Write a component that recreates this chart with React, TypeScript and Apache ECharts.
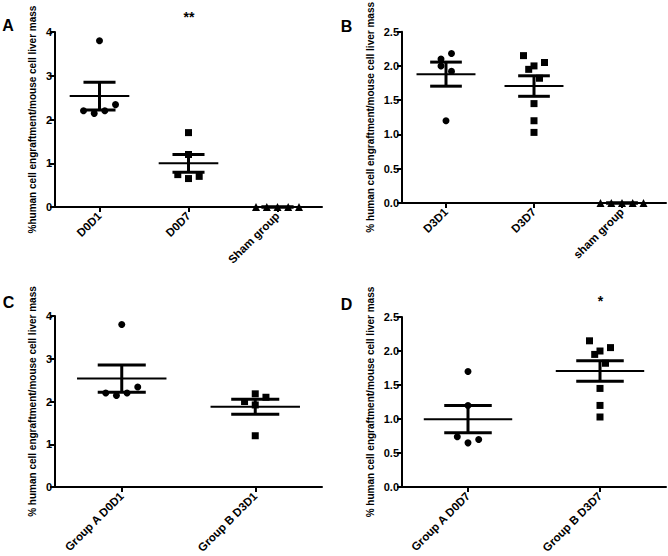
import React, { useEffect, useRef } from "react";
import * as echarts from "echarts";

// ---- categories ----
const A_CATEGORIES = ["D0D1", "D0D7", "Sham group"];
const B_CATEGORIES = ["D3D1", "D3D7", "sham group"];
const C_CATEGORIES = ["Group A D0D1", "Group B D3D1"];
const D_CATEGORIES = ["Group A D0D7", "Group B D3D7"];

// ---- values (% human cell engraftment / mouse cell liver mass) ----
const D0D1_VALUES = [3.8, 2.2, 2.14, 2.2, 2.34];
const D0D7_VALUES = [1.7, 1.2, 0.74, 0.65, 0.7];
const D3D1_VALUES = [2.18, 2.1, 2.0, 1.92, 1.2];
const D3D7_VALUES = [2.15, 1.95, 2.0, 2.05, 1.82, 1.45, 1.2, 1.03];
const SHAM_A_VALUES = [0, 0, 0, 0, 0];
const SHAM_B_VALUES = [0, 0, 0, 0, 0];

// ---- axis ticks ----
const A_Y_MAX = 4;
const A_Y_INTERVAL = 1;
const B_Y_MAX = 2.5;
const B_Y_INTERVAL = 0.5;

// ---- horizontal jitter of the dots (px) ----
const JIT_D0D1 = [0, -16, -5.3, 5.3, 16];
const JIT_D0D7 = [0, 0, -10.7, 0, 10.7];
const JIT_D3D1_B = [5.5, -5, -5, 5.5, 0];
const JIT_D3D1_C = [0, 10.7, -10.7, 0, 0];
const JIT_D3D7 = [-10.5, -5.3, 0, 10.5, 5.5, 0, 0, 0];
const JIT_SHAM = [-21.5, -10.7, 0, 10.7, 21.5];

const FONT = "'Liberation Sans', Arial, sans-serif";

function meanSem(vals: number[]) {
  const n = vals.length;
  const m = vals.reduce((a, b) => a + b, 0) / n;
  const v = vals.reduce((a, b) => a + (b - m) * (b - m), 0) / (n - 1);
  return [m, Math.sqrt(v) / Math.sqrt(n)];
}

type Group = { values: number[]; jitter: number[]; symbol: string; size: number };
type Panel = {
  grid: { left: number; top: number; width: number; height: number };
  categories: string[];
  yMax: number;
  yInterval: number;
  decimals: number;
  yName: string;
  nameGap: number;
  groups: Group[];
};

const panels: Panel[] = [
  {
    grid: { left: 55, top: 32, width: 267, height: 175 },
    categories: A_CATEGORIES,
    yMax: A_Y_MAX,
    yInterval: A_Y_INTERVAL,
    decimals: 0,
    yName: "%human cell engraftment/mouse cell liver mass",
    nameGap: 18,
    groups: [
      { values: D0D1_VALUES, jitter: JIT_D0D1, symbol: "circle", size: 7 },
      { values: D0D7_VALUES, jitter: JIT_D0D7, symbol: "rect", size: 7 },
      { values: SHAM_A_VALUES, jitter: JIT_SHAM, symbol: "triangle", size: 8 },
    ],
  },
  {
    grid: { left: 402, top: 28, width: 264, height: 175 },
    categories: B_CATEGORIES,
    yMax: B_Y_MAX,
    yInterval: B_Y_INTERVAL,
    decimals: 1,
    yName: "% human cell engraftment/mouse cell liver mass",
    nameGap: 27,
    groups: [
      { values: D3D1_VALUES, jitter: JIT_D3D1_B, symbol: "circle", size: 7 },
      { values: D3D7_VALUES, jitter: JIT_D3D7, symbol: "rect", size: 7 },
      { values: SHAM_B_VALUES, jitter: JIT_SHAM, symbol: "triangle", size: 8 },
    ],
  },
  {
    grid: { left: 55, top: 316, width: 267, height: 175.5 },
    categories: C_CATEGORIES,
    yMax: A_Y_MAX,
    yInterval: A_Y_INTERVAL,
    decimals: 0,
    yName: "% human cell engraftment/mouse cell liver mass",
    nameGap: 18,
    groups: [
      { values: D0D1_VALUES, jitter: JIT_D0D1, symbol: "circle", size: 7 },
      { values: D3D1_VALUES, jitter: JIT_D3D1_C, symbol: "rect", size: 7 },
    ],
  },
  {
    grid: { left: 402, top: 317, width: 264, height: 176 },
    categories: D_CATEGORIES,
    yMax: B_Y_MAX,
    yInterval: B_Y_INTERVAL,
    decimals: 1,
    yName: "% human cell engraftment/mouse cell liver mass",
    nameGap: 27,
    groups: [
      { values: D0D7_VALUES, jitter: JIT_D0D7, symbol: "circle", size: 7 },
      { values: D3D7_VALUES, jitter: JIT_D3D7, symbol: "rect", size: 7 },
    ],
  },
];

function buildOption() {
  const grid: any[] = [];
  const xAxis: any[] = [];
  const yAxis: any[] = [];
  const series: any[] = [];

  panels.forEach((p, pi) => {
    grid.push({ ...p.grid, containLabel: false });
    xAxis.push({
      type: "category",
      gridIndex: pi,
      data: p.categories,
      boundaryGap: true,
      axisLine: { show: true, lineStyle: { color: "#000", width: 2 } },
      axisTick: { show: true, alignWithLabel: true, length: 5, lineStyle: { color: "#000", width: 2 } },
      axisLabel: {
        rotate: 45,
        color: "#000",
        fontFamily: FONT,
        fontWeight: "bold",
        fontSize: 11.5,
        margin: 7,
        interval: 0,
      },
      splitLine: { show: false },
    });
    yAxis.push({
      type: "value",
      gridIndex: pi,
      min: 0,
      max: p.yMax,
      interval: p.yInterval,
      name: p.yName,
      nameLocation: "middle",
      nameGap: p.nameGap,
      nameTextStyle: { color: "#000", fontFamily: FONT, fontSize: 10, fontWeight: "bold" },
      axisLine: { show: true, lineStyle: { color: "#000", width: 2 } },
      axisTick: { show: true, length: 5, lineStyle: { color: "#000", width: 2 } },
      axisLabel: {
        color: "#000",
        fontFamily: FONT,
        fontWeight: "bold",
        fontSize: 11,
        margin: 3,
        formatter: (v: number) => v.toFixed(p.decimals),
      },
      splitLine: { show: false },
    });

    const stats = p.groups.map((g, ci) => {
      const [m, s] = meanSem(g.values);
      return [ci, m, s];
    });
    series.push({
      type: "custom",
      xAxisIndex: pi,
      yAxisIndex: pi,
      z: 2,
      data: stats,
      renderItem: (_params: any, api: any) => {
        const x = api.value(0);
        const m = api.value(1);
        const s = api.value(2);
        const c = api.coord([x, m]);
        const top = api.coord([x, m + s]);
        const bot = api.coord([x, m - s]);
        const band = api.size([1, 0])[0];
        const mw = band * 0.335;
        const sw = band * 0.18;
        const st = { stroke: "#000", lineWidth: 2 };
        const st3 = { stroke: "#000", lineWidth: 3 };
        return {
          type: "group",
          children: [
            { type: "line", shape: { x1: c[0] - mw, y1: c[1], x2: c[0] + mw, y2: c[1] }, style: st },
            { type: "line", shape: { x1: c[0] - sw, y1: top[1], x2: c[0] + sw, y2: top[1] }, style: st3 },
            { type: "line", shape: { x1: c[0] - sw, y1: bot[1], x2: c[0] + sw, y2: bot[1] }, style: st3 },
            { type: "line", shape: { x1: c[0], y1: top[1], x2: c[0], y2: bot[1] }, style: st3 },
          ],
        };
      },
    });

    p.groups.forEach((g, ci) => {
      series.push({
        type: "scatter",
        xAxisIndex: pi,
        yAxisIndex: pi,
        z: 3,
        symbol: g.symbol,
        symbolSize: g.size,
        itemStyle: { color: "#000", opacity: 1 },
        data: g.values.map((v, i) => ({ value: [ci, v], symbolOffset: [g.jitter[i], 0] })),
      });
    });
  });

  const letter = (t: string, x: number, y: number) => ({
    type: "text",
    x,
    y,
    style: {
      text: t,
      fill: "#000",
      font: `bold 16px ${FONT}`,
      textAlign: "center",
      textVerticalAlign: "middle",
    },
  });

  const graphic = [
    letter("A", 8, 25),
    letter("B", 346.5, 26),
    letter("C", 8.5, 302),
    letter("D", 346.5, 304.5),
    {
      type: "text",
      x: 189,
      y: 17,
      style: { text: "**", fill: "#000", font: `bold 14px ${FONT}`, textAlign: "center", textVerticalAlign: "middle" },
    },
    {
      type: "text",
      x: 600.5,
      y: 301,
      style: { text: "*", fill: "#000", font: `bold 14px ${FONT}`, textAlign: "center", textVerticalAlign: "middle" },
    },
  ];

  return {
    animation: false,
    backgroundColor: "#fff",
    textStyle: { fontFamily: FONT },
    grid,
    xAxis,
    yAxis,
    series,
    graphic,
  };
}

export default function App() {
  const ref = useRef<HTMLDivElement>(null);
  useEffect(() => {
    if (!ref.current) return;
    const chart = echarts.init(ref.current, undefined, { renderer: "svg" });
    chart.setOption(buildOption() as any);
    return () => chart.dispose();
  }, []);
  return (
    <div
      ref={ref}
      style={{ position: "fixed", left: 0, top: 0, width: 668, height: 556, background: "#fff" }}
    />
  );
}
